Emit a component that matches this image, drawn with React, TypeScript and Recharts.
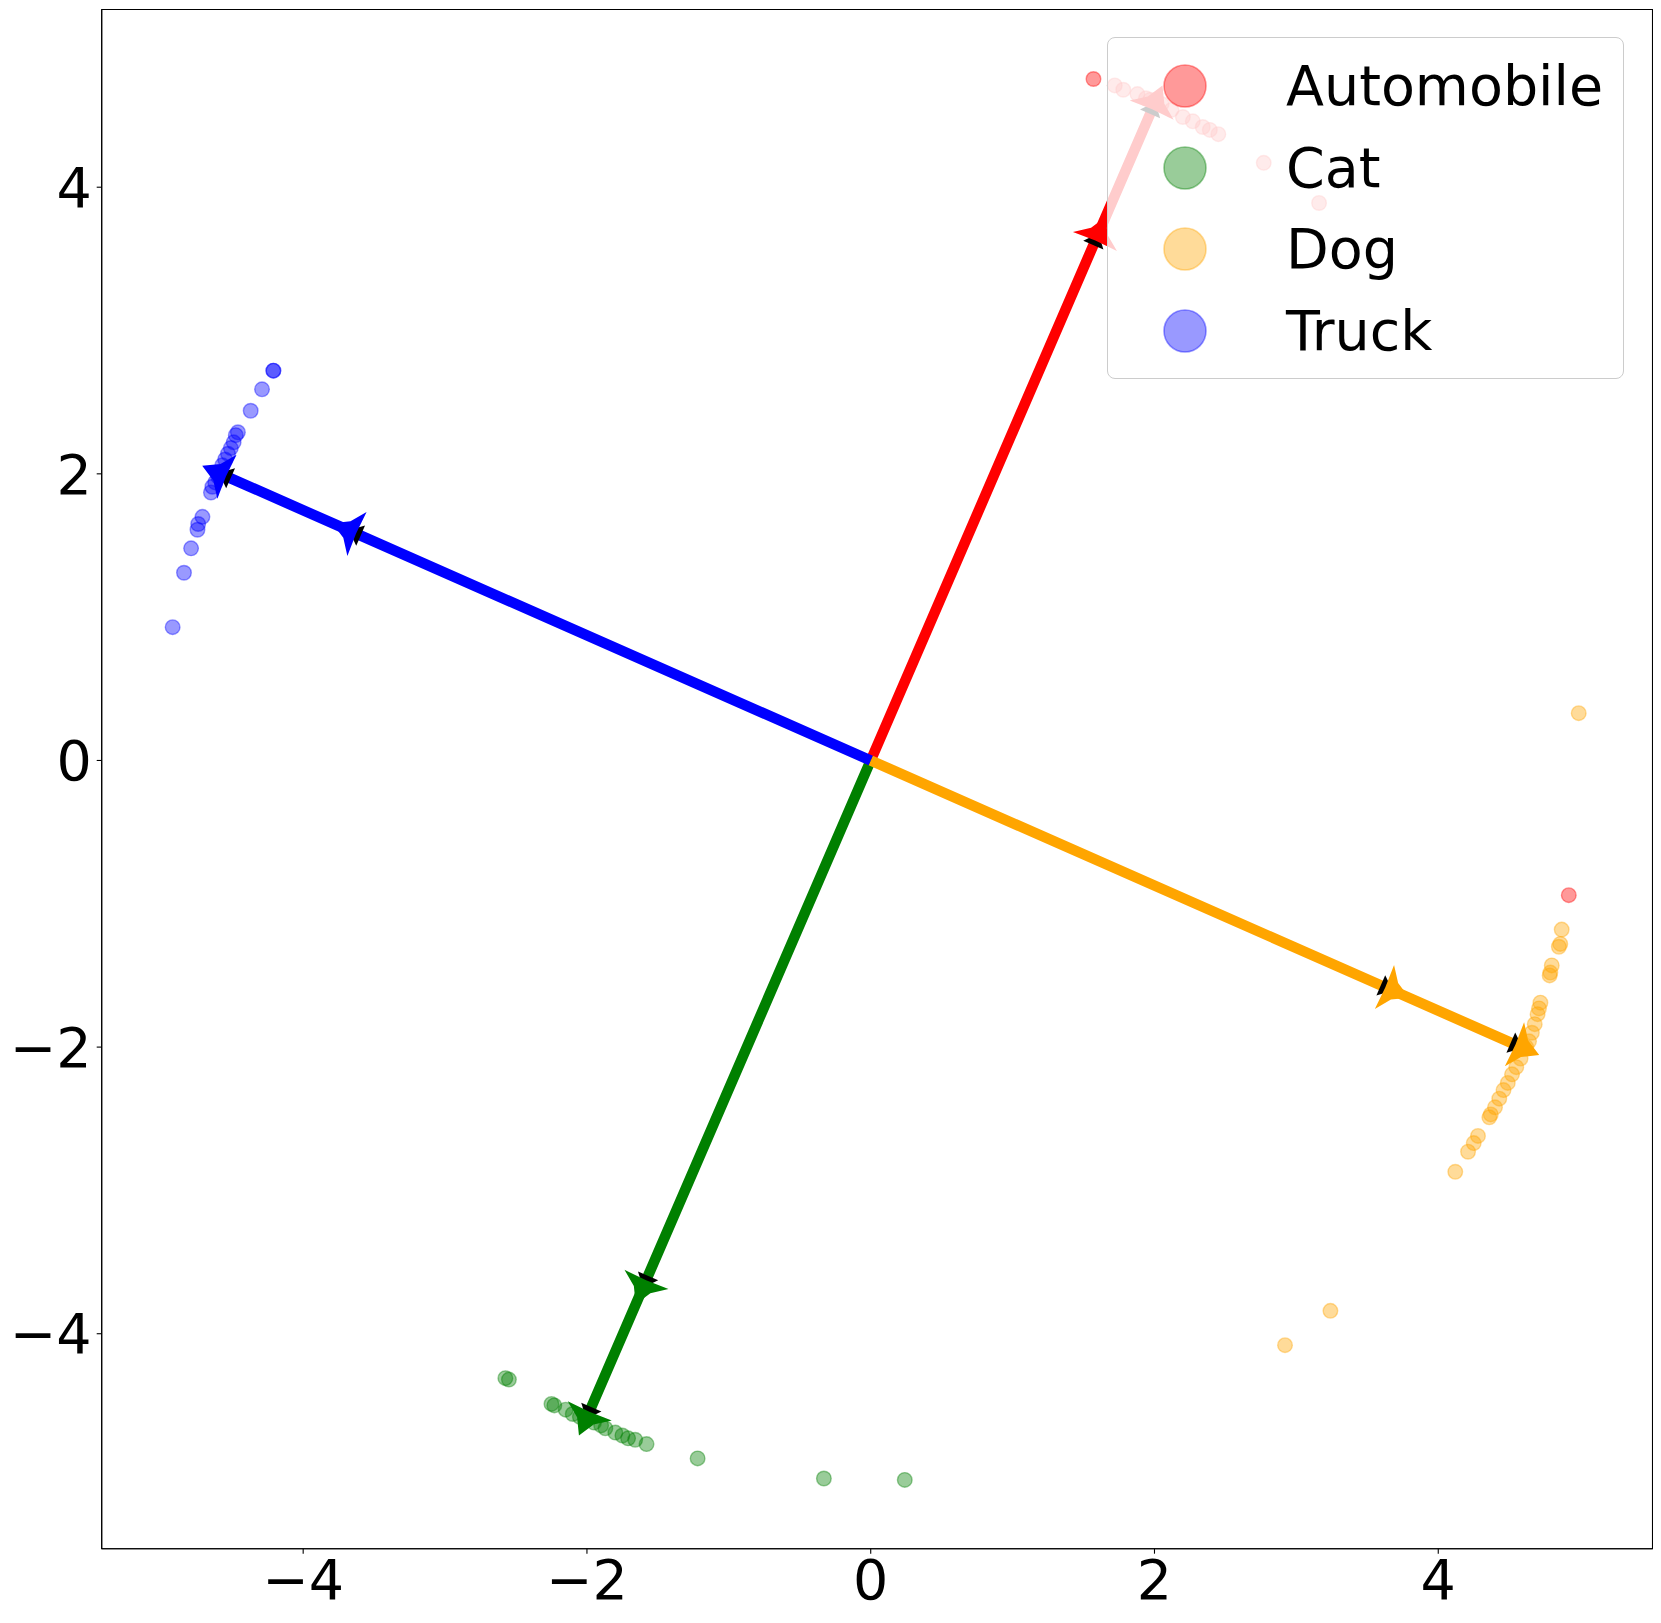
import { ScatterChart, Scatter, XAxis, YAxis, ReferenceArea } from "recharts";

// class names, colours
const CLASSES = ["Automobile", "Cat", "Dog", "Truck"];
const COLORS = ["#ff0000", "#008000", "#ffa500", "#0000ff"];

// direction of each class arrow (unit length), arrow heads drawn at 4 and 5
const ARROW_DIRS: [number, number][] = [
  [0.4, 0.9165],
  [-0.4, -0.9165],
  [0.9165, -0.4],
  [-0.9165, 0.4],
];
const ARROW_STOPS = [4, 5];

// embedded points
const automobilePoints: [number, number][] = [
  [1.57, 4.755], [1.72, 4.71], [1.78, 4.68], [1.88, 4.65], [1.94, 4.62],
  [1.97, 4.61], [2.05, 4.58], [2.12, 4.54], [2.2, 4.49], [2.27, 4.46],
  [2.34, 4.42], [2.39, 4.4], [2.45, 4.37], [2.77, 4.17], [3.16, 3.89],
  [4.92, -0.94],
];
const catPoints: [number, number][] = [
  [-2.575, -4.31], [-2.55, -4.32], [-2.25, -4.49], [-2.23, -4.5], [-2.15, -4.53],
  [-2.1, -4.56], [-2.05, -4.58], [-2.0, -4.6], [-1.95, -4.62], [-1.9, -4.64],
  [-1.87, -4.66], [-1.8, -4.69], [-1.75, -4.71], [-1.71, -4.73], [-1.66, -4.74],
  [-1.58, -4.77], [-1.22, -4.87], [-0.33, -5.01], [0.24, -5.02],
];
const dogPoints: [number, number][] = [
  [4.99, 0.33], [4.87, -1.18], [4.86, -1.28], [4.85, -1.3], [4.8, -1.43],
  [4.79, -1.48], [4.785, -1.5], [4.72, -1.69], [4.71, -1.73], [4.7, -1.77],
  [4.68, -1.84], [4.66, -1.9], [4.64, -1.96], [4.62, -2.0], [4.58, -2.08],
  [4.55, -2.14], [4.52, -2.19], [4.49, -2.25], [4.46, -2.3], [4.43, -2.36],
  [4.4, -2.42], [4.37, -2.47], [4.36, -2.49], [4.28, -2.62], [4.25, -2.67],
  [4.21, -2.73], [4.12, -2.87], [3.24, -3.84], [2.92, -4.08],
];
const truckPoints: [number, number][] = [
  [-4.21, 2.72], [-4.21, 2.72], [-4.29, 2.59], [-4.37, 2.44], [-4.46, 2.29],
  [-4.475, 2.27], [-4.49, 2.22], [-4.51, 2.18], [-4.53, 2.14], [-4.55, 2.1],
  [-4.57, 2.06], [-4.6, 1.98], [-4.62, 1.94], [-4.64, 1.91], [-4.65, 1.87],
  [-4.71, 1.7], [-4.74, 1.65], [-4.745, 1.61], [-4.79, 1.48], [-4.84, 1.31],
  [-4.92, 0.93],
];
const POINTS = [automobilePoints, catPoints, dogPoints, truckPoints];

const X_DOMAIN = [-5.42, 5.51];
const Y_DOMAIN = [-5.5, 5.24];
const TICKS = [-4, -2, 0, 2, 4];

const FONT = "DejaVu Sans";
const fmt = (v: number) => String(v).replace("-", "\u2212");

const Dot = (props: any) => {
  const { cx, cy, fill } = props;
  return (
    <circle cx={cx} cy={cy} r={7.3} fill={fill} fillOpacity={0.4}
      stroke={fill} strokeOpacity={0.4} strokeWidth={1.4} />
  );
};

const ArrowHead = (props: any) => {
  const { cx, cy, payload, fill } = props;
  if (!payload || !payload.head) return <g />;
  const dx = payload.dx, dy = -payload.dy; // screen space, y flipped
  const px = -dy, py = dx;
  const pt = (a: number, b: number) => `${cx + dx * a + px * b},${cy + dy * a + py * b}`;
  const black = [pt(2, 0), pt(-11, 11), pt(-11, -11)].join(" ");
  // three-pointed head: tip forward, two barbs to the sides
  const head = [
    pt(20, 0), pt(4, 9), pt(-7, 24), pt(-6, 0), pt(-7, -24), pt(4, -9),
  ].join(" ");
  return (
    <g>
      <polygon points={black} fill="#000" />
      <polygon points={head} fill={fill} />
    </g>
  );
};

const LegendBox = () => (
  <div
    style={{
      position: "absolute",
      left: 1099,
      top: 29,
      width: 515,
      height: 340,
      background: "rgba(255,255,255,0.8)",
      border: "1.4px solid #cccccc",
      borderRadius: 8,
      fontFamily: FONT,
      fontSize: 55.5,
    }}
  >
    {CLASSES.map((name, i) => (
      <div
        key={name}
        style={{ position: "absolute", left: 0, top: 48 + i * 81.7 - 35, height: 70, display: "flex", alignItems: "center" }}
      >
        <svg width={160} height={70} style={{ display: "block" }}>
          <circle cx={77} cy={35} r={21} fill={COLORS[i]} fillOpacity={0.4}
            stroke={COLORS[i]} strokeOpacity={0.4} strokeWidth={1.6} />
        </svg>
        <span style={{ position: "absolute", left: 178, lineHeight: "70px", whiteSpace: "nowrap" }}>{name}</span>
      </div>
    ))}
  </div>
);

export default function App() {
  const pointSeries = POINTS.map((pts) => pts.map(([x, y]) => ({ x, y })));
  const arrowSeries = ARROW_DIRS.map(([dx, dy]) => [
    { x: 0, y: 0, head: false, dx, dy },
    ...ARROW_STOPS.map((s) => ({ x: dx * s, y: dy * s, head: true, dx, dy })),
  ]);

  return (
    <div style={{ position: "relative", width: 1653, height: 1615 }}>
      <ScatterChart width={1653} height={1615} margin={{ top: 1.5, right: 8.5, left: 0, bottom: 0 }}>
        <XAxis
          type="number" dataKey="x" domain={X_DOMAIN} ticks={TICKS} allowDataOverflow
          height={74.3} tickSize={5} tickMargin={6} tickFormatter={fmt}
          stroke="#000" strokeWidth={1.1}
          tick={{ fill: "#000", fontSize: 55.5, fontFamily: FONT }}
        />
        <YAxis
          type="number" dataKey="y" domain={Y_DOMAIN} ticks={TICKS} allowDataOverflow
          width={93.7} tickSize={5} tickMargin={5} tickFormatter={fmt}
          stroke="#000" strokeWidth={1.1}
          tick={{ fill: "#000", fontSize: 55.5, fontFamily: FONT }}
        />
        <ReferenceArea
          x1={X_DOMAIN[0]} x2={X_DOMAIN[1]} y1={Y_DOMAIN[0]} y2={Y_DOMAIN[1]}
          fill="none" stroke="#000" strokeWidth={1.1} ifOverflow="visible"
        />
        {pointSeries.map((data, i) => (
          <Scatter key={`p-${i}`} data={data} fill={COLORS[i]} shape={<Dot />} isAnimationActive={false} />
        ))}
        {arrowSeries.map((data, i) => (
          <Scatter
            key={`a-${i}`} data={data} fill={COLORS[i]} shape={<ArrowHead />}
            line={{ stroke: COLORS[i], strokeWidth: 10.5 }} isAnimationActive={false}
          />
        ))}
      </ScatterChart>
      <LegendBox />
    </div>
  );
}
